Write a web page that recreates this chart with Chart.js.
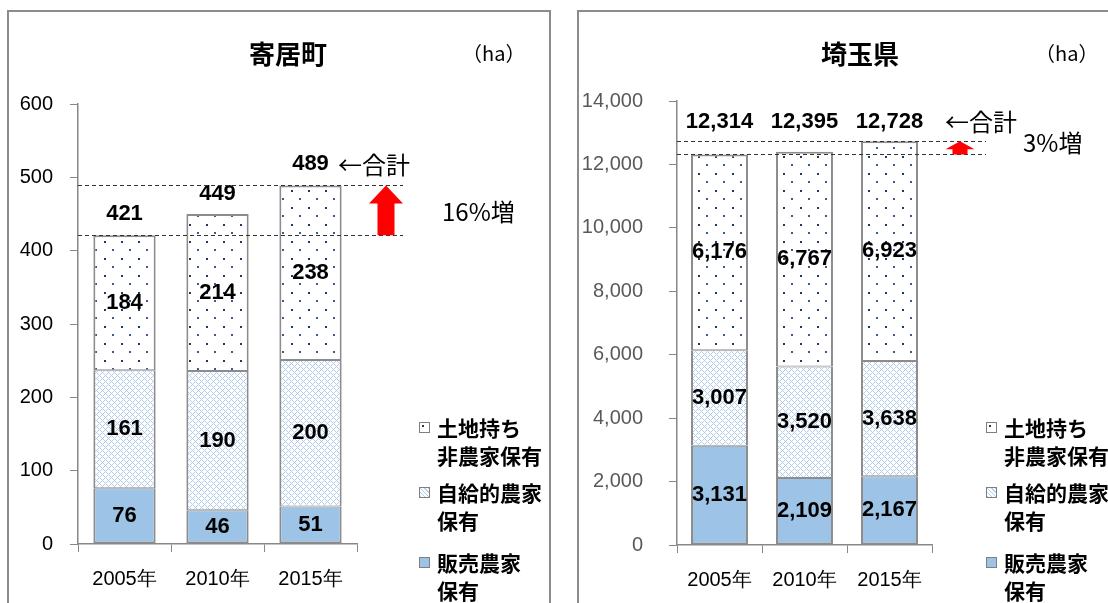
<!DOCTYPE html>
<html lang="ja">
<head>
    <meta charset="UTF-8">
    <title>農地保有面積</title>
    <script src="https://cdn.jsdelivr.net/npm/chart.js"></script>
    <style>
        body { margin: 0; width: 1108px; height: 603px; overflow: hidden; background: #fff; position: relative; }
        .panel { position: absolute; top: 10px; height: 640px; border: 2px solid #8c8c8c; box-sizing: border-box; }
        .wrap { position: absolute; top: 0; height: 603px; }
        .title { position: absolute; font: bold 26px "Noto Sans CJK JP"; transform: translate(-50%, -50%); white-space: nowrap; }
        .unit { position: absolute; font: 20px "Noto Sans CJK JP"; transform: translateY(-50%); white-space: nowrap; }
        .legend { position: absolute; font: bold 21px "Noto Sans CJK JP"; line-height: 28px; }
        .legend .item { position: absolute; left: 0; white-space: nowrap; }
        .legend .mark { position: absolute; left: 0; top: 9px; width: 9px; height: 9px; border: 1px solid #7f7f7f; }
        .legend .txt { position: absolute; left: 18px; top: 0; }
        .m1 { background: radial-gradient(circle at 3px 3px, #1f3864 1px, #fff 1.5px); }
        .m2 { background: repeating-linear-gradient(45deg, #b4cdee 0 1px, #fff 1px 3px), #fff; }
        .m3 { background: #9dc3e6; }
    </style>
</head>
<body>
    <div class="panel" style="left:7px; width:544px;"></div>
    <div class="panel" style="left:577px; width:600px;"></div>

    <div class="wrap" style="left:0; width:560px;"><canvas id="chartYorii" width="560" height="603"></canvas></div>
    <div class="wrap" style="left:560px; width:548px;"><canvas id="chartSaitama" width="548" height="603"></canvas></div>

    <div class="title" style="left:288px; top:52px;">寄居町</div>
    <div class="unit" style="left:462px; top:52px;">（ha）</div>
    <div class="title" style="left:860px; top:52px;">埼玉県</div>
    <div class="unit" style="left:1035px; top:52px;">（ha）</div>

    <div class="legend" style="left:419px; top:0;">
        <div class="item" style="top:413px;"><span class="mark m1"></span><span class="txt">土地持ち<br>非農家保有</span></div>
        <div class="item" style="top:478px;"><span class="mark m2"></span><span class="txt">自給的農家<br>保有</span></div>
        <div class="item" style="top:548px;"><span class="mark m3"></span><span class="txt">販売農家<br>保有</span></div>
    </div>
    <div class="legend" style="left:986px; top:0;">
        <div class="item" style="top:413px;"><span class="mark m1"></span><span class="txt">土地持ち<br>非農家保有</span></div>
        <div class="item" style="top:478px;"><span class="mark m2"></span><span class="txt">自給的農家<br>保有</span></div>
        <div class="item" style="top:548px;"><span class="mark m3"></span><span class="txt">販売農家<br>保有</span></div>
    </div>

    <script>
        // データ
        const years = ['2005年', '2010年', '2015年'];

        const yoriiHanbai = [76, 46, 51];          // 販売農家保有
        const yoriiJikyu = [161, 190, 200];        // 自給的農家保有
        const yoriiTochi = [184, 214, 238];        // 土地持ち非農家保有
        const yoriiTotal = [421, 449, 489];

        const saitamaHanbai = [3131, 2109, 2167];
        const saitamaJikyu = [3007, 3520, 3638];
        const saitamaTochi = [6176, 6767, 6923];
        const saitamaTotal = [12314, 12395, 12728];

        const yoriiTicks = { max: 600, step: 100 };
        const saitamaTicks = { max: 14000, step: 2000 };

        const seriesNames = ['販売農家保有', '自給的農家保有', '土地持ち非農家保有'];

        // 模様
        const makeDots = () => {
            const c = document.createElement('canvas');
            c.width = 17; c.height = 17;
            const g = c.getContext('2d');
            g.fillStyle = '#fff';
            g.fillRect(0, 0, 17, 17);
            g.fillStyle = '#1f3864';
            g.fillRect(2, 3, 2, 2);
            g.fillStyle = '#3a5a94';
            g.fillRect(10, 11, 2, 2);
            return g.createPattern(c, 'repeat');
        };

        const makeCheck = () => {
            const c = document.createElement('canvas');
            c.width = 6; c.height = 6;
            const g = c.getContext('2d');
            g.fillStyle = '#fff';
            g.fillRect(0, 0, 6, 6);
            g.fillStyle = '#b4cdee';
            for (let x = 0; x < 6; x++) {
                for (let y = 0; y < 6; y++) {
                    if ((x + y) % 6 === 0 || (x - y + 6) % 6 === 0) g.fillRect(x, y, 1, 1);
                }
            }
            return g.createPattern(c, 'repeat');
        };

        const fmt = v => v.toLocaleString('en-US');

        const annotatePlugin = {
            id: 'annotate',
            afterDatasetsDraw(chart, args, opts) {
                const ctx = chart.ctx;
                const ys = chart.scales.y;
                const area = chart.chartArea;
                ctx.save();
                ctx.fillStyle = '#000';
                ctx.textAlign = 'center';
                ctx.textBaseline = 'middle';
                ctx.font = 'bold 22px "Liberation Sans"';

                // 系列の値
                chart.data.datasets.forEach((ds, i) => {
                    chart.getDatasetMeta(i).data.forEach((bar, j) => {
                        ctx.fillText(fmt(ds.data[j]), bar.x, (bar.y + bar.base) / 2);
                    });
                });

                // 合計
                const topBars = chart.getDatasetMeta(chart.data.datasets.length - 1).data;
                const totalY = t => opts.totalAt != null ? ys.getPixelForValue(opts.totalAt) : ys.getPixelForValue(t) - opts.totalGap;
                opts.totals.forEach((t, j) => {
                    ctx.fillText(fmt(t), topBars[j].x, totalY(t));
                });

                const first = opts.totals[0];
                const last = opts.totals[opts.totals.length - 1];
                ctx.textAlign = 'left';
                ctx.font = '24px "Noto Sans CJK JP"';
                ctx.fillText('←合計', opts.sumX, totalY(last));

                // 点線
                const y0 = ys.getPixelForValue(first);
                const y1 = ys.getPixelForValue(last);
                ctx.strokeStyle = '#333';
                ctx.lineWidth = 1;
                ctx.setLineDash([4, 3]);
                [y0, y1].forEach(y => {
                    ctx.beginPath();
                    ctx.moveTo(area.left, Math.round(y) + 0.5);
                    ctx.lineTo(opts.lineEnd, Math.round(y) + 0.5);
                    ctx.stroke();
                });
                ctx.setLineDash([]);

                // 矢印
                const ax = opts.arrowX;
                const hh = Math.min(18, (y0 - y1) * 0.6);
                ctx.fillStyle = '#ff0000';
                ctx.beginPath();
                ctx.moveTo(ax, y1);
                ctx.lineTo(ax + opts.headW / 2, y1 + hh);
                ctx.lineTo(ax + opts.shaftW / 2, y1 + hh);
                ctx.lineTo(ax + opts.shaftW / 2, y0);
                ctx.lineTo(ax - opts.shaftW / 2, y0);
                ctx.lineTo(ax - opts.shaftW / 2, y1 + hh);
                ctx.lineTo(ax - opts.headW / 2, y1 + hh);
                ctx.closePath();
                ctx.fill();

                // 増加率
                ctx.fillStyle = '#000';
                ctx.font = '24px "Noto Sans CJK JP"';
                ctx.fillText(opts.growth, opts.growthX, (y0 + y1) / 2 + opts.growthDy);
                ctx.restore();
            }
        };

        const createChart = (id, hanbai, jikyu, tochi, ticks, cfg) => {
            const common = {
                borderColor: '#8c8c8c',
                borderSkipped: false,
                barPercentage: 0.67,
                categoryPercentage: 1.0
            };
            return new Chart(document.getElementById(id).getContext('2d'), {
                type: 'bar',
                data: {
                    labels: years,
                    datasets: [
                        { label: seriesNames[0], data: hanbai, backgroundColor: '#9dc3e6', borderWidth: { top: 1, bottom: 2, left: 2, right: 2 }, ...common },
                        { label: seriesNames[1], data: jikyu, backgroundColor: makeCheck(), borderWidth: { top: 1, bottom: 1, left: 2, right: 2 }, ...common },
                        { label: seriesNames[2], data: tochi, backgroundColor: makeDots(), borderWidth: { top: 2, bottom: 1, left: 2, right: 2 }, ...common }
                    ]
                },
                options: {
                    responsive: false,
                    animation: false,
                    devicePixelRatio: 1,
                    locale: 'en-US',
                    layout: { padding: { top: cfg.top, right: cfg.right, left: 0, bottom: 0 } },
                    plugins: {
                        legend: { display: false },
                        tooltip: { enabled: false },
                        annotate: cfg.annotate
                    },
                    scales: {
                        x: {
                            stacked: true,
                            border: { color: '#888', width: 1.5 },
                            grid: { drawOnChartArea: false, drawTicks: true, tickLength: 8, color: '#888' },
                            ticks: { color: '#000', padding: 15, font: { family: 'Liberation Sans', size: 20 } },
                            afterFit: s => { s.height = cfg.xHeight; }
                        },
                        y: {
                            stacked: true,
                            min: 0,
                            max: ticks.max,
                            border: { color: '#888', width: 1.5 },
                            grid: { drawOnChartArea: false, drawTicks: true, tickLength: 8, color: '#888' },
                            ticks: { stepSize: ticks.step, color: cfg.tickColor, padding: cfg.tickPad, font: { family: 'Liberation Sans', size: 20 } },
                            afterFit: s => { s.width = cfg.yWidth; }
                        }
                    }
                },
                plugins: [annotatePlugin]
            });
        };

        createChart('chartYorii', yoriiHanbai, yoriiJikyu, yoriiTochi, yoriiTicks, {
            top: 104, right: 203, xHeight: 59, yWidth: 78, tickPad: 17, tickColor: '#000',
            annotate: {
                totals: yoriiTotal, totalGap: 21, sumX: 338, lineEnd: 403,
                arrowX: 386, headW: 34, shaftW: 17,
                growth: '16%増', growthX: 442, growthDy: 2
            }
        });

        createChart('chartSaitama', saitamaHanbai, saitamaJikyu, saitamaTochi, saitamaTicks, {
            top: 101, right: 176, xHeight: 58, yWidth: 117, tickPad: 26, tickColor: '#595959',
            annotate: {
                totals: saitamaTotal, totalAt: 13330, sumX: 385, lineEnd: 426,
                arrowX: 400, headW: 29, shaftW: 15,
                growth: '3%増', growthX: 463, growthDy: -5
            }
        });
    </script>
</body>
</html>
